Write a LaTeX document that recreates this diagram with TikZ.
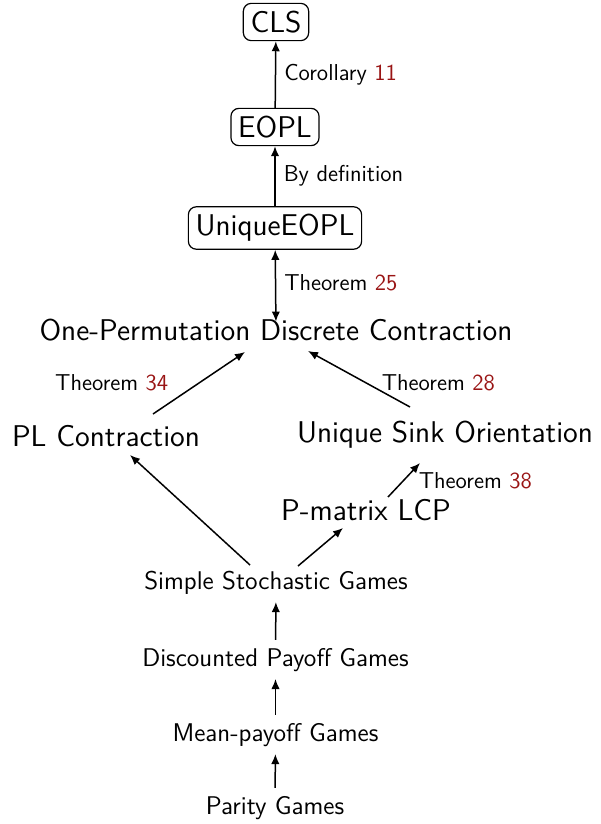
\documentclass[tikz,border=0pt]{standalone}
\usepackage{fontspec}
\usetikzlibrary{arrows.meta,calc,positioning}
\definecolor{refred}{rgb}{0.6,0.08,0.08}
\begin{document}
\begin{tikzpicture}[x=0.5pt,y=-0.5pt,
  every node/.style={font=\sffamily},
  big/.style={font=\sffamily\fontsize{15}{17}\selectfont, inner sep=1.5pt},
  cls/.style={big, draw, rounded corners=4pt, line width=0.6pt, inner xsep=3.6pt, inner ysep=3.8pt},
  game/.style={font=\sffamily\fontsize{12.8}{15}\selectfont, inner sep=2pt},
  lab/.style={font=\sffamily\fontsize{11.5}{13}\selectfont, inner sep=1pt},
  arr/.style={-{Latex[length=5pt,width=4.2pt]}, line width=0.75pt},
  darr/.style={{Latex[length=5pt,width=4.2pt]}-{Latex[length=5pt,width=4.2pt]}, line width=0.75pt}]
\useasboundingbox (0,0) rectangle (600,824);
\node[cls] (cls) at (276,22) {CLS};
\node[cls] (eopl) at (275,127) {EOPL};
\node[cls] (ueopl) at (275,228) {UniqueEOPL};
\node[big] (opdc) at (276,330) {One-Permutation Discrete Contraction};
\node[big] (plc) at (106,436) {PL Contraction};
\node[big] (uso) at (445,435) {Unique Sink Orientation};
\node[big] (plcp) at (366,510) {P-matrix LCP};
\node[game] (ssg) at (276,583) {Simple Stochastic Games};
\node[game] (dpg) at (275.5,660) {Discounted Payoff Games};
\node[game] (mpg) at (275.5,735) {Mean-payoff Games};
\node[game] (pg) at (275,808) {Parity Games};

\draw[arr] (eopl) -- node[lab,right=3pt] {Corollary \textcolor{refred}{11}} (cls);
\draw[arr] (ueopl) -- node[lab,right=3pt] {By definition} (eopl);
\draw[darr, shorten >=-3pt] (ueopl) -- node[lab,right=3pt] {Theorem \textcolor{refred}{25}} (opdc);
\draw[arr] ($(plc)+(47,-22)$) -- node[lab,anchor=east,pos=0.5,xshift=-14pt] {Theorem \textcolor{refred}{34}} ($(opdc)+(-31,22)$);
\draw[arr] ($(uso)+(-35,-28)$) -- node[lab,anchor=west,pos=0.5,xshift=10pt,yshift=-2pt] {Theorem \textcolor{refred}{28}} ($(opdc)+(32,21)$);
\draw[arr] ($(ssg)+(-26,-18)$) -- ($(plc)+(24,19)$);
\draw[arr] ($(ssg)+(22,-17)$) -- ($(plcp)+(-23,18)$);
\draw[arr] ($(plcp)+(22,-13)$) -- node[lab,anchor=west,pos=0.5,xshift=6pt,yshift=-0.5pt] {Theorem \textcolor{refred}{38}} ($(uso)+(-25,28)$);
\draw[arr, shorten <=2pt, shorten >=1.5pt] (dpg) -- (ssg);
\draw[arr, shorten <=2pt, shorten >=1.5pt] (mpg) -- (dpg);
\draw[arr, shorten <=2pt, shorten >=1.5pt] (pg) -- (mpg);
\end{tikzpicture}
\end{document}
